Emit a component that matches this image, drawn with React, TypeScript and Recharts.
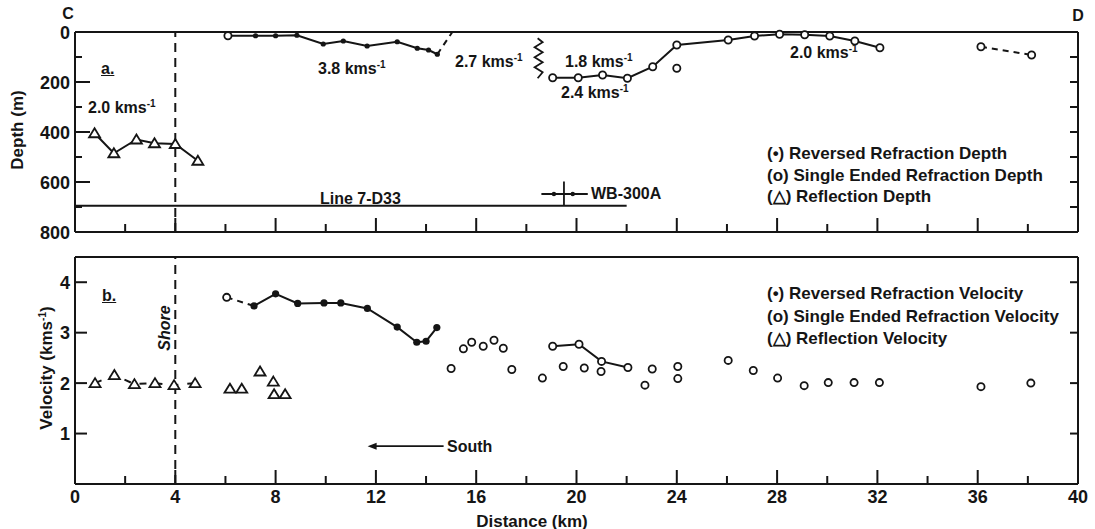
import React from 'react'
import { ComposedChart, Scatter, XAxis, YAxis, ReferenceLine, ReferenceDot } from 'recharts'

const ink = '#151515'
const font = '"Liberation Sans", Arial, sans-serif'

// (a) depth section
const revDepthKm = [6.1, 7.2, 8.0, 8.85, 9.9, 10.7, 11.65, 12.85, 13.65, 14.1, 14.45]
const revDepthM = [15, 15, 15, 13, 48, 36, 56, 39, 65, 72, 89]
const revDepthTailKm = [14.45, 15.05]
const revDepthTailM = [89, 0]
const singleDepthKm = [19.05, 20.07, 21.04, 22.03, 23.04, 24.0, 26.05, 27.1, 28.1, 29.1, 30.1, 31.1, 32.1]
const singleDepthM = [183, 183, 172, 185, 139, 52, 32, 16, 9, 11, 16, 36, 63]
const singleDepthLooseKm = [6.1, 24.0]
const singleDepthLooseM = [15, 145]
const singleDepthEastKm = [36.13, 38.15]
const singleDepthEastM = [59, 92]
const reflDepthKm = [0.78, 1.55, 2.45, 3.17, 4.0, 4.9]
const reflDepthM = [405, 485, 430, 445, 448, 515]
const wellDotsKm = [19.1, 19.85]
const wellDotsM = [648, 648]

// (b) velocity section
const revVelKm = [7.14, 8.0, 8.88, 9.93, 10.6, 11.66, 12.85, 13.63, 14.0, 14.43]
const revVelKms = [3.53, 3.77, 3.58, 3.59, 3.59, 3.48, 3.11, 2.81, 2.83, 3.1]
const revVelHeadKm = [6.05, 7.14]
const revVelHeadKms = [3.7, 3.53]
const singleVelLineKm = [19.05, 20.1, 21.0, 22.05]
const singleVelLineKms = [2.73, 2.77, 2.43, 2.31]
const singleVelKm = [6.05, 15.0, 15.49, 15.82, 16.28, 16.71, 17.08, 17.42, 18.64, 19.47, 20.31, 20.98, 22.73, 23.02, 24.04, 24.04, 26.05, 27.05, 28.02, 29.08, 30.04, 31.07, 32.08, 36.13, 38.12]
const singleVelKms = [3.7, 2.29, 2.68, 2.81, 2.73, 2.85, 2.69, 2.27, 2.1, 2.33, 2.3, 2.23, 1.96, 2.28, 2.33, 2.09, 2.45, 2.25, 2.1, 1.95, 2.01, 2.01, 2.01, 1.93, 2.0]
const reflVelLineKm = [0.8, 1.57, 2.37, 3.19, 3.95, 4.79]
const reflVelLineKms = [2.0, 2.16, 1.98, 2.0, 1.96, 2.0]
const reflVelKm = [6.18, 6.65, 7.38, 7.91, 7.94, 8.38]
const reflVelKms = [1.89, 1.89, 2.23, 2.03, 1.78, 1.78]

// ticks
const kmTicks = [0, 2, 4, 6, 8, 10, 12, 14, 16, 18, 20, 22, 24, 26, 28, 30, 32, 34, 36, 38, 40]
const depthTicks = [0, 100, 200, 300, 400, 500, 600, 700, 800]
const depthLabels = [0, 200, 400, 600, 800]
const velTicks = [0, 1, 2, 3, 4]
const velLabels = [1, 2, 3, 4]

const pts = (xs: number[], ys: number[]) => xs.map((x, i) => ({ x, y: ys[i] }))

const Open = (p: any) => <circle cx={p.cx} cy={p.cy} r={3.6} fill="#fff" stroke={ink} strokeWidth={1.8} />
const dot = (r: number) => (p: any) => <circle cx={p.cx} cy={p.cy} r={r} fill={ink} />
const Tri = (p: any) => (
  <path d={`M${p.cx},${p.cy - 5} L${p.cx + 5.5},${p.cy + 4} L${p.cx - 5.5},${p.cy + 4} Z`} fill="#fff" stroke={ink} strokeWidth={1.8} />
)
const NoMark = () => <g />

const solid = { stroke: ink, strokeWidth: 2 }
const dashed = { stroke: ink, strokeWidth: 2, strokeDasharray: '6 5' }
const txtProps = { fontSize: 18, fontWeight: 700, fill: ink, fontFamily: font }

// custom ticks: inward tick marks, labels outside
const xTick = (dir: number, labels: boolean) => (p: any) => {
  const v = p.payload.value
  const major = v % 4 === 0
  const len = v === 0 || v === 40 ? 0 : major ? 14 : 8
  return (
    <g>
      <line x1={p.x} x2={p.x} y1={p.y} y2={p.y + dir * len} stroke={ink} strokeWidth={2} />
      {labels && major && <text x={p.x} y={p.y + 19} textAnchor="middle" {...txtProps}>{v}</text>}
    </g>
  )
}
const yTick = (dir: number, labels: number[], lenOf: (v: number) => number) => (p: any) => {
  const v = p.payload.value
  return (
    <g>
      <line x1={p.x} x2={p.x + dir * lenOf(v)} y1={p.y} y2={p.y} stroke={ink} strokeWidth={2} />
      {labels.includes(v) && <text x={p.x - 5} y={p.y + 6.5} textAnchor="end" {...txtProps}>{v}</text>}
    </g>
  )
}
const depthLeftLen = (v: number) => (v === 0 || v === 800 ? 0 : v % 200 === 0 ? 15 : 7)
const depthRightLen = (v: number) => (v === 0 || v === 800 ? 0 : 8)
const velLeftLen = (v: number) => (v === 0 ? 0 : 12)
const velRightLen = (v: number) => (v === 0 ? 0 : 8)

const Txt = ({ x, y, size = 16, center, rotate, italic, underline, children }: any) => (
  <div
    style={{
      position: 'absolute', left: x, top: y, fontSize: size, fontWeight: 700, fontFamily: font, color: ink,
      whiteSpace: 'nowrap', lineHeight: 1, fontStyle: italic ? 'italic' : 'normal',
      textDecoration: underline ? 'underline' : 'none',
      transform: `translate(${center ? '-50%' : '0'}, -50%)${rotate ? ` rotate(${rotate}deg)` : ''}`,
    }}
  >
    {children}
  </div>
)

const Sup = () => <span style={{ fontSize: 10, position: 'relative', top: -6 }}>-1</span>
const Kms = ({ v }: { v: string }) => (
  <>
    {v} kms<Sup />
  </>
)

const Zigzag = (p: any) => {
  const { cx, cy } = p
  const d = `M${cx},${cy - 20} l5,4 l-8,5 l8,5 l-8,5 l8,5 l-8,5 l8,5 l-5,6`
  return <path d={d} fill="none" stroke={ink} strokeWidth={1.8} />
}
const ArrowHead = (p: any) => (
  <path d={`M${p.cx - 2},${p.cy} l9,-3.5 l0,7 Z`} fill={ink} />
)

const axisBase = { type: 'number' as const, interval: 0 as const, tickSize: 0, tickMargin: 0, tickLine: false, stroke: ink, strokeWidth: 2 }

function DepthPanel() {
  return (
    <ComposedChart width={1095} height={250} margin={{ top: 31, right: 16, bottom: 17, left: 15 }}>
      <XAxis xAxisId="x" dataKey="x" {...axisBase} domain={[0, 40]} ticks={kmTicks} height={1} tick={xTick(-1, false)} />
      <XAxis xAxisId="xt" {...axisBase} orientation="top" allowDataOverflow domain={[0, 40]} ticks={kmTicks} height={1} tick={xTick(1, false)} />
      <YAxis yAxisId="y" dataKey="y" {...axisBase} domain={[0, 800]} reversed ticks={depthTicks} width={60} tick={yTick(1, depthLabels, depthLeftLen)} />
      <YAxis yAxisId="yr" {...axisBase} orientation="right" allowDataOverflow domain={[0, 800]} reversed ticks={depthTicks} width={1} tick={yTick(-1, [], depthRightLen)} />
      <ReferenceLine xAxisId="x" yAxisId="y" x={4} stroke={ink} strokeWidth={2} strokeDasharray="9 6" />
      <ReferenceLine xAxisId="x" yAxisId="y" segment={[{ x: 0, y: 695 }, { x: 22, y: 695 }]} stroke={ink} strokeWidth={2} />
      <ReferenceLine xAxisId="x" yAxisId="y" segment={[{ x: 18.6, y: 648 }, { x: 20.45, y: 648 }]} stroke={ink} strokeWidth={1.8} />
      <ReferenceLine xAxisId="x" yAxisId="y" segment={[{ x: 19.5, y: 598 }, { x: 19.5, y: 692 }]} stroke={ink} strokeWidth={1.8} />
      <ReferenceDot xAxisId="x" yAxisId="y" x={18.45} y={105} shape={Zigzag} />
      <Scatter xAxisId="x" yAxisId="y" data={pts(wellDotsKm, wellDotsM)} shape={dot(2.2)} isAnimationActive={false} />
      <Scatter xAxisId="x" yAxisId="y" data={pts(revDepthTailKm, revDepthTailM)} line={dashed} shape={NoMark} isAnimationActive={false} />
      <Scatter xAxisId="x" yAxisId="y" data={pts(revDepthKm, revDepthM)} line={solid} shape={dot(2.6)} isAnimationActive={false} />
      <Scatter xAxisId="x" yAxisId="y" data={pts(singleDepthKm, singleDepthM)} line={solid} shape={Open} isAnimationActive={false} />
      <Scatter xAxisId="x" yAxisId="y" data={pts(singleDepthEastKm, singleDepthEastM)} line={dashed} shape={Open} isAnimationActive={false} />
      <Scatter xAxisId="x" yAxisId="y" data={pts(singleDepthLooseKm, singleDepthLooseM)} shape={Open} isAnimationActive={false} />
      <Scatter xAxisId="x" yAxisId="y" data={pts(reflDepthKm, reflDepthM)} line={solid} shape={Tri} isAnimationActive={false} />
    </ComposedChart>
  )
}

function VelocityPanel() {
  return (
    <ComposedChart width={1095} height={284} margin={{ top: 11, right: 16, bottom: 44, left: 15 }}>
      <XAxis xAxisId="x" dataKey="x" {...axisBase} domain={[0, 40]} ticks={kmTicks} height={1} tick={xTick(-1, true)} />
      <XAxis xAxisId="xt" {...axisBase} orientation="top" allowDataOverflow domain={[0, 40]} ticks={kmTicks} height={1} tick={xTick(1, false)} />
      <YAxis yAxisId="y" dataKey="y" {...axisBase} domain={[0, 4.5]} ticks={velTicks} width={60} tick={yTick(1, velLabels, velLeftLen)} />
      <YAxis yAxisId="yr" {...axisBase} orientation="right" allowDataOverflow domain={[0, 4.5]} ticks={velTicks} width={1} tick={yTick(-1, [], velRightLen)} />
      <ReferenceLine xAxisId="x" yAxisId="y" x={4} stroke={ink} strokeWidth={2} strokeDasharray="9 6" />
      <ReferenceLine xAxisId="x" yAxisId="y" segment={[{ x: 11.8, y: 0.75 }, { x: 14.7, y: 0.75 }]} stroke={ink} strokeWidth={1.8} />
      <ReferenceDot xAxisId="x" yAxisId="y" x={11.75} y={0.75} shape={ArrowHead} />
      <Scatter xAxisId="x" yAxisId="y" data={pts(revVelHeadKm, revVelHeadKms)} line={dashed} shape={NoMark} isAnimationActive={false} />
      <Scatter xAxisId="x" yAxisId="y" data={pts(revVelKm, revVelKms)} line={solid} shape={dot(3.6)} isAnimationActive={false} />
      <Scatter xAxisId="x" yAxisId="y" data={pts(singleVelLineKm, singleVelLineKms)} line={solid} shape={Open} isAnimationActive={false} />
      <Scatter xAxisId="x" yAxisId="y" data={pts(singleVelKm, singleVelKms)} shape={Open} isAnimationActive={false} />
      <Scatter xAxisId="x" yAxisId="y" data={pts(reflVelLineKm, reflVelLineKms)} line={{ ...dashed, strokeDasharray: '7 9' }} shape={Tri} isAnimationActive={false} />
      <Scatter xAxisId="x" yAxisId="y" data={pts(reflVelKm, reflVelKms)} shape={Tri} isAnimationActive={false} />
    </ComposedChart>
  )
}

export default function App() {
  return (
    <div style={{ position: 'absolute', left: 0, top: 0, width: 1095, height: 529, background: '#fff', overflow: 'hidden' }}>
      <div style={{ position: 'absolute', left: 0, top: 0 }}>
        <DepthPanel />
      </div>
      <div style={{ position: 'absolute', left: 0, top: 245 }}>
        <VelocityPanel />
      </div>

      <Txt x={68} y={14} center>C</Txt>
      <Txt x={1078} y={16} center>D</Txt>
      <Txt x={17} y={130} center rotate={-90} size={17}>Depth (m)</Txt>
      <Txt x={46} y={368} center rotate={-90} size={17}>Velocity (kms<Sup />)</Txt>
      <Txt x={532} y={521} center size={17}>Distance (km)</Txt>

      <Txt x={101} y={69} underline>a.</Txt>
      <Txt x={102} y={296} underline>b.</Txt>

      <Txt x={88} y={108}><Kms v="2.0" /></Txt>
      <Txt x={318} y={69}><Kms v="3.8" /></Txt>
      <Txt x={455} y={62}><Kms v="2.7" /></Txt>
      <Txt x={565} y={62}><Kms v="1.8" /></Txt>
      <Txt x={561} y={93}><Kms v="2.4" /></Txt>
      <Txt x={790} y={53}><Kms v="2.0" /></Txt>

      <Txt x={320} y={199}>Line 7-D33</Txt>
      <Txt x={591} y={194}>WB-300A</Txt>
      <Txt x={165} y={328} center rotate={-90} italic>Shore</Txt>
      <Txt x={447} y={447}>South</Txt>

      <Txt x={767} y={153} size={17}>(•) Reversed Refraction Depth</Txt>
      <Txt x={767} y={175} size={17}>(o) Single Ended Refraction Depth</Txt>
      <Txt x={767} y={196} size={17}>(△) Reflection Depth</Txt>
      <Txt x={767} y={293} size={17}>(•) Reversed Refraction Velocity</Txt>
      <Txt x={767} y={316} size={17}>(o) Single Ended Refraction Velocity</Txt>
      <Txt x={767} y={338} size={17}>(△) Reflection Velocity</Txt>
    </div>
  )
}
